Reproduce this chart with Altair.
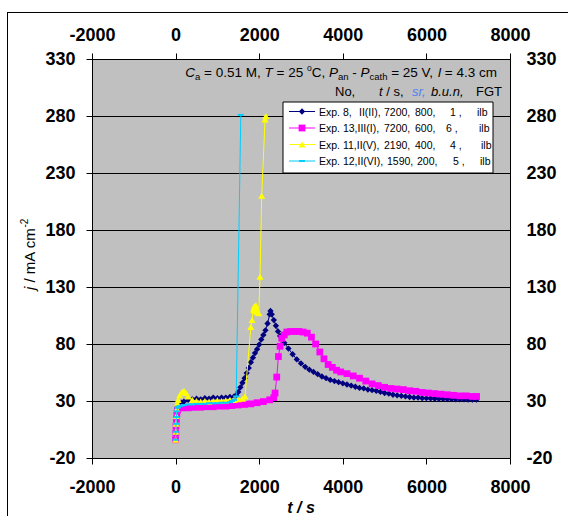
import altair as alt
import pandas as pd

FONT = "Liberation Sans"

# ---------------- data ----------------
x_ticks = [-2000, 0, 2000, 4000, 6000, 8000]
y_ticks = [-20, 30, 80, 130, 180, 230, 280, 330]

exp8_t = [0, 5, 10, 20, 30, 45, 60, 100, 150, 200, 300, 400, 500, 600, 700, 800, 900, 1000,
          1100, 1200, 1300, 1400, 1450, 1500, 1550, 1600, 1650, 1700, 1750, 1800, 1850, 1900,
          1950, 2000, 2050, 2100, 2150, 2200, 2250, 2270, 2300, 2350, 2400, 2450, 2500, 2600,
          2700, 2800, 2900, 3000, 3100, 3200, 3300, 3400, 3500, 3600, 3700, 3800, 3900, 4000,
          4100, 4200, 4300, 4400, 4500, 4600, 4700, 4800, 4900, 5000, 5100, 5200, 5300, 5400,
          5500, 5600, 5700, 5800, 5900, 6000, 6100, 6200, 6300, 6400, 6500, 6600, 6700, 6800,
          6900, 7000, 7100, 7200]
exp8_j = [-3, 3, 9, 15, 20, 24, 26, 27, 28.5, 29.5, 31, 31.5, 32, 31.5, 32.5, 32, 33, 32.5,
          33, 33, 33.5, 34, 35, 38, 42, 46, 50, 54.5, 59, 64, 68, 72,
          75.5, 79.5, 84, 88, 92, 98, 106, 109, 106, 101, 96, 91, 87, 81,
          76, 71, 66.5, 63, 60, 57.5, 55.5, 53.5, 51.5, 50, 48.5, 47.5, 46.5, 45.5,
          44.5, 43.5, 42.5, 41.5, 41, 40, 39.5, 39, 38, 37, 36.5, 35.5, 35, 34.5,
          34, 33.5, 33, 33, 32.5, 32.5, 32.3, 32, 32, 31.8, 31.7, 31.6, 31.5, 31.5,
          31.4, 31.3, 31.2, 31.2]

exp13_t = [0, 5, 10, 20, 30, 45, 60, 150, 300, 450, 600, 750, 900, 1050, 1200, 1350, 1500,
           1650, 1800, 1950, 2100, 2250, 2350, 2380, 2420, 2460, 2500, 2540, 2600, 2660, 2750,
           2850, 2950, 3050, 3150, 3250, 3350, 3450, 3550, 3650, 3750, 3850, 3950, 4100, 4250,
           4400, 4550, 4700, 4850, 5000, 5150, 5300, 5450, 5600, 5750, 5900, 6050, 6200, 6350,
           6500, 6650, 6800, 6950, 7100, 7200]
exp13_j = [-4, 2, 8, 14, 19, 22, 23.5, 24, 24, 24.5, 24.5, 25, 25, 25.5, 25.5, 26, 26.5,
           27, 27.5, 28.5, 29.5, 31, 33, 37, 51, 69, 78, 85, 88, 90.5, 91,
           91, 91, 90.5, 89.5, 86, 80, 73, 67, 62, 59.5, 57, 55.5, 54, 52,
           50, 47.5, 45, 43.5, 42, 41, 40.5, 40, 39, 38.5, 37.5, 37, 36.5, 36,
           35.5, 35, 34.5, 34.5, 34, 34]

exp11_t = [0, 5, 10, 20, 30, 45, 60, 100, 150, 200, 250, 300, 400, 500, 600, 700, 800, 900,
           1000, 1100, 1200, 1300, 1400, 1500, 1600, 1660, 1800, 1830, 1860, 1880, 1900, 1920,
           1940, 1960, 1990, 2020, 2060, 2140, 2160]
exp11_j = [-4, 3, 10, 17, 23, 28, 31, 35, 38, 39, 37, 34, 31, 30, 29.5, 30, 29.5, 30,
           30.5, 30, 30.5, 31, 31, 31.5, 32, 34, 95, 101, 110, 113, 109, 114,
           111, 108, 107, 139, 210, 277, 280]

exp12_t = [0, 5, 10, 20, 30, 45, 60, 100, 150, 200, 300, 400, 500, 600, 700, 800, 900, 1000,
           1100, 1200, 1300, 1350, 1400, 1450, 1560]
exp12_j = [-4, 3, 10, 16, 21, 24, 25, 25.5, 26, 26.5, 27, 27, 27.5, 27.5, 27.5, 28, 28, 28,
           28.5, 28.5, 29, 30, 31, 34, 281]

series_names = ["Exp. 8", "Exp. 13", "Exp. 11", "Exp. 12"]
series_t = [exp8_t, exp13_t, exp11_t, exp12_t]
series_j = [exp8_j, exp13_j, exp11_j, exp12_j]
series_colors = ["#000080", "#FF00FF", "#FFFF00", "#00CCFF"]
DASH = "M-1,-0.32L1,-0.32L1,0.32L-1,0.32Z"
series_shapes = ["diamond", "square", "triangle-up", DASH]
series_sizes = [40, 46, 50, 36]

legend_rows = [
    [("Exp. 8,", 319), ("II(II),", 359), ("7200,", 384), ("800,", 415), ("1 ,", 450), ("ilb", 477)],
    [("Exp. 13,III(I),", 319), ("7200,", 384), ("600,", 415), ("6 ,", 446), ("ilb", 479)],
    [("Exp. 11,II(V),", 319), ("2190,", 384), ("400,", 415), ("4 ,", 450), ("ilb", 481)],
    [("Exp. 12,II(VI),", 319), ("1590,", 387), ("200,", 417), ("5 ,", 453), ("ilb", 480)],
]

# ---------------- layout ----------------
L, T = 92, 59          # plot origin in canvas px
W, H = 418, 399        # plot area size
CW, CH = 568, 516

AW = {' ': 278, '\u00a0': 278, ',': 278, '-': 333, '.': 278, '/': 278, '=': 584, '°': 400,
      '(': 333, ')': 333, 'A': 667, 'C': 722, 'E': 667, 'F': 611, 'G': 778, 'I': 278,
      'M': 833, 'N': 722, 'P': 667, 'T': 611, 'V': 667, 'a': 556, 'b': 556, 'c': 500,
      'e': 556, 'h': 556, 'i': 222, 'j': 222, 'l': 222, 'm': 833, 'n': 556, 'o': 556,
      'p': 556, 'r': 333, 's': 500, 't': 278, 'u': 556, 'x': 500}


def tw(s, size):
    return sum(AW.get(ch, 556) for ch in s) * size / 1000.0


one = pd.DataFrame({"d": [0]})


def txt(s, x, y, size, italic=False, bold=False, color="black", align="left",
        baseline="alphabetic", angle=0):
    kw = dict(font=FONT, fontSize=size, color=color, align=align, baseline=baseline)
    if italic:
        kw["fontStyle"] = "italic"
    if bold:
        kw["fontWeight"] = "bold"
    if angle:
        kw["angle"] = angle
    return alt.Chart(one).mark_text(**kw).encode(
        x=alt.value(x - L), y=alt.value(y - T), text=alt.value(s))


def run(segs, start, base, horizontal=True, angle=0):
    """segs: (text, size, italic, shift, color). Lays pieces one after another."""
    out = []
    cur = start
    for s, size, it, shift, col in segs:
        lead = len(s) - len(s.lstrip(" "))
        core = s.strip(" ")
        pos = cur + tw(" " * lead, size) if horizontal else cur - tw(" " * lead, size)
        if core:
            if horizontal:
                out.append(txt(core, pos, base + shift, size, italic=it, color=col))
            else:
                out.append(txt(core, base + shift, pos, size, italic=it, color=col, angle=angle))
        cur = cur + tw(s, size) if horizontal else cur - tw(s, size)
    return out


xs = alt.Scale(domain=[-2000, 8000], nice=False, zero=False)
ys = alt.Scale(domain=[-20, 330], nice=False, zero=False)

axis_common = dict(labelFont=FONT, labelFontSize=18, labelFontWeight="bold", labelColor="black",
                   domainColor="black", tickColor="black", labelFlush=False, labelOverlap=False,
                   labelExpr="'' + datum.value", title=None)

axdf = pd.DataFrame({"t": [-2000, 8000], "j": [-20, 330]})
ax1 = alt.Chart(axdf).mark_point(opacity=0).encode(
    x=alt.X("t:Q", scale=xs, axis=alt.Axis(orient="bottom", values=x_ticks, grid=False,
                                           tickSize=6, labelPadding=14, **axis_common)),
    y=alt.Y("j:Q", scale=ys, axis=alt.Axis(orient="left", values=y_ticks, grid=True,
                                           gridColor="black", gridWidth=1, tickSize=6,
                                           labelPadding=11, **axis_common)),
)
ax2 = alt.Chart(axdf).mark_point(opacity=0).encode(
    x=alt.X("t:Q", scale=xs, axis=alt.Axis(orient="top", values=x_ticks, grid=False,
                                           tickSize=6, labelPadding=9, **axis_common)),
    y=alt.Y("j:Q", scale=ys, axis=alt.Axis(orient="right", values=y_ticks, grid=False,
                                           ticks=False, labelPadding=16, **axis_common)),
)

layers = [ax1, ax2]

# outer frame (top and left edges)
layers.append(alt.Chart(one).mark_rule(color="black", strokeWidth=1).encode(
    x=alt.value(7 - L), x2=alt.value(CW - L), y=alt.value(12.5 - T)))
layers.append(alt.Chart(one).mark_rule(color="black", strokeWidth=1).encode(
    x=alt.value(7.5 - L), y=alt.value(12 - T), y2=alt.value(CH - T)))

# data series
for name, t, j, c, shp, sz in zip(series_names, series_t, series_j, series_colors,
                                  series_shapes, series_sizes):
    assert len(t) == len(j), name
    df = pd.DataFrame({"t": t, "j": j})
    base = alt.Chart(df)
    enc = dict(x=alt.X("t:Q", scale=xs, axis=None), y=alt.Y("j:Q", scale=ys, axis=None))
    layers.append(base.mark_line(color=c, strokeWidth=1).encode(**enc))
    layers.append(base.mark_point(shape=shp, filled=True, color=c, size=sz, opacity=1).encode(**enc))

# legend box
layers.append(alt.Chart(one).mark_rect(fill="white", stroke="black", strokeWidth=1).encode(
    x=alt.value(283 - L), x2=alt.value(493 - L), y=alt.value(102 - T), y2=alt.value(173 - T)))
row_y = [111.5, 128, 144.5, 161]
for ry, c, shp, sz, row in zip(row_y, series_colors, series_shapes, series_sizes, legend_rows):
    layers.append(alt.Chart(one).mark_rule(color=c, strokeWidth=1).encode(
        x=alt.value(289 - L), x2=alt.value(315 - L), y=alt.value(ry - T)))
    layers.append(alt.Chart(one).mark_point(shape=shp, filled=True, color=c, size=sz,
                                            opacity=1).encode(
        x=alt.value(302 - L), y=alt.value(ry - T)))
    for s, x in row:
        layers.append(txt(s, x, ry + 4, 10.5))

# annotation line 1
F1, FS = 13.5, 9.5
K = "black"
line1 = [("C", F1, True, 0, K), ("a", FS, False, 3, K), (" = 0.51 M, ", F1, False, 0, K),
         ("T", F1, True, 0, K), (" = 25 ", F1, False, 0, K), ("o", FS - 1, False, -6, K),
         ("C, ", F1, False, 0, K), ("P", F1, True, 0, K), ("an", FS, False, 3, K),
         (" - ", F1, False, 0, K), ("P", F1, True, 0, K), ("cath", FS, False, 3, K),
         (" = 25 V, ", F1, False, 0, K), ("l", F1, True, 0, K), (" = 4.3 cm", F1, False, 0, K)]
total1 = sum(tw(s, sz) for s, sz, _, _, _ in line1)
layers += run(line1, 497 - total1, 77)

# annotation line 2
F2 = 13
layers.append(txt("No,", 335, 96, F2))
layers.append(txt("t", 379, 96, F2, italic=True))
layers.append(txt("/ s,", 379 + tw("t ", F2), 96, F2))
layers.append(txt("sr,", 412, 96, F2, italic=True, color="#4F7FF5"))
layers.append(txt("b.u.n,", 431, 96, F2, italic=True))
layers.append(txt("FGT", 476, 96, F2))

# axis titles
layers.append(txt("t / s", 301, 513, 16, italic=True, bold=True, align="center"))
ytitle = [("j", 15, True, 0, K), (" / mA cm", 15, False, 0, K), ("-2", 10, False, -7, K)]
layers += run(ytitle, 290, 35, horizontal=False, angle=270)

chart = alt.layer(*layers).resolve_axis(x="independent", y="independent").properties(
    width=W, height=H,
    padding={"left": L, "top": T, "right": CW - L - W, "bottom": CH - T - H},
    autosize=alt.AutoSizeParams(type="none"),
    background="white",
).configure_view(fill="#C0C0C0", stroke="#808080", strokeWidth=1)

chart.save("out.html", embed_options={"renderer": "svg", "actions": False})
